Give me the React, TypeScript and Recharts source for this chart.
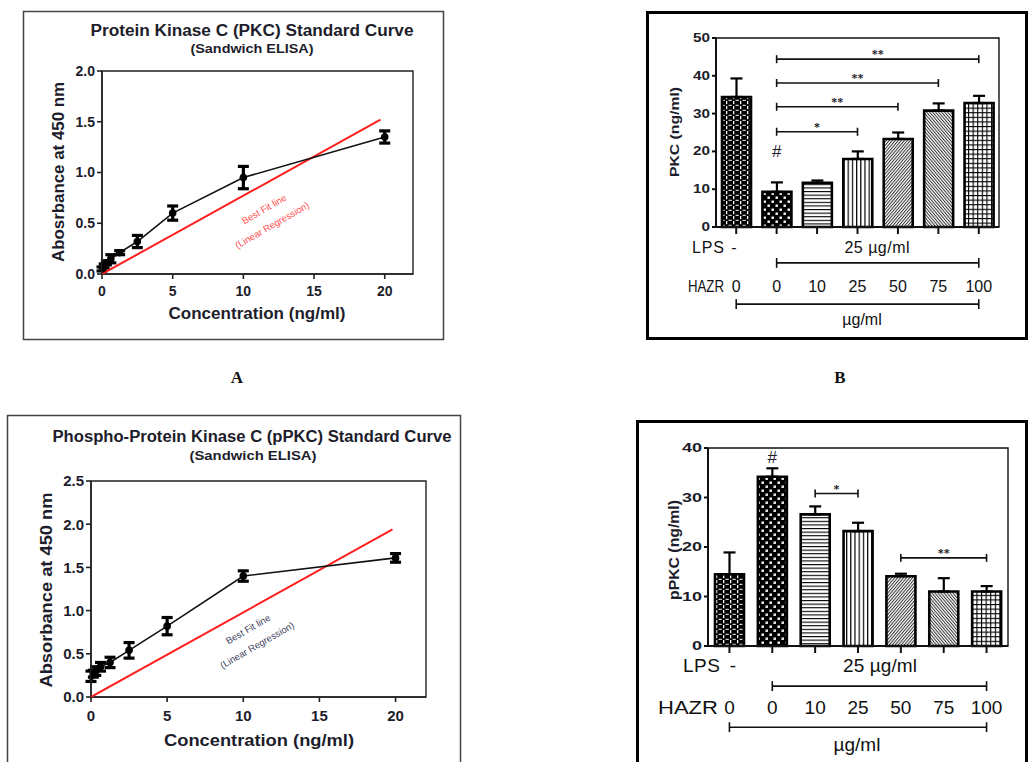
import React from 'react'
import {
  ScatterChart, Scatter, BarChart, Bar, XAxis, YAxis, ErrorBar, Cell,
  ReferenceLine, ReferenceArea, ReferenceDot,
} from 'recharts'

const FONT = '"Liberation Sans", Arial, sans-serif'
const INK = '#1d1d2b'

// standard curves (A: PKC, C: pPKC)
const stdConc      = [0, 0.156, 0.3125, 0.625, 1.25, 2.5, 5, 10, 20]
const pkcAbs       = [0.05, 0.08, 0.11, 0.15, 0.21, 0.32, 0.6, 0.95, 1.35]
const pkcAbsErr    = [0.02, 0.02, 0.02, 0.04, 0.02, 0.06, 0.07, 0.11, 0.06]
const ppkcAbs      = [0.24, 0.27, 0.3, 0.35, 0.4, 0.54, 0.82, 1.4, 1.61]
const ppkcAbsErr   = [0.06, 0.04, 0.05, 0.05, 0.06, 0.09, 0.1, 0.06, 0.05]
const pkcFitX      = [0, 19.7]
const pkcFitY      = [0, 1.52]
const ppkcFitX     = [0, 19.8]
const ppkcFitY     = [0, 1.94]
const concTicks    = [0, 5, 10, 15, 20]
const pkcAbsTicks  = [0, 0.5, 1, 1.5, 2]
const ppkcAbsTicks = [0, 0.5, 1, 1.5, 2, 2.5]

// treated cells (B: PKC, D: pPKC)
const groups    = ['ctrl', 'lps', 'h10', 'h25', 'h50', 'h75', 'h100']
const hazrDose  = ['0', '0', '10', '25', '50', '75', '100']
const pkcLevel  = [34.4, 9.3, 11.7, 18.0, 23.3, 30.8, 32.8]
const pkcSem    = [4.9, 2.5, 0.6, 2.0, 1.7, 1.9, 1.9]
const ppkcLevel = [14.5, 34.2, 26.6, 23.2, 14.1, 11.0, 11.0]
const ppkcSem   = [4.4, 1.7, 1.6, 1.7, 0.5, 2.7, 1.1]
const pkcTicks  = [0, 10, 20, 30, 40, 50]
const ppkcTicks = [0, 10, 20, 30, 40]
const barFills  = ['url(#pCheck)', 'url(#pDots)', 'url(#pHLines)', 'url(#pVLines)', 'url(#pDiagR)', 'url(#pDiagL)', 'url(#pGrid)']

const pkcSig = [
  { from: 'lps', to: 'h25',  y: 25.2, mark: '*' },
  { from: 'lps', to: 'h50',  y: 31.8, mark: '**' },
  { from: 'lps', to: 'h75',  y: 38.1, mark: '**' },
  { from: 'lps', to: 'h100', y: 44.4, mark: '**' },
]
const ppkcSig = [
  { from: 'h10', to: 'h25',  y: 30.8, mark: '*' },
  { from: 'h50', to: 'h100', y: 17.8, mark: '**' },
]

const curve = (xs: number[], ys: number[], es?: number[]) =>
  xs.map((x, i) => ({ x, y: ys[i], err: es ? es[i] : 0 }))

const bars = (vals: number[], sems: number[]) =>
  groups.map((g, i) => ({ g, v: vals[i], e: [0, sems[i]] }))

const tickFont = (size: number) => ({ fontSize: size, fontWeight: 700, fill: INK, fontFamily: FONT })

function StretchTick(props: any) {
  const { x, y, payload, size, perChar } = props
  const s = String(payload.value)
  return (
    <text x={x} y={y} textAnchor="end" dominantBaseline="central" fontSize={size}
      fontWeight={700} fontFamily={FONT} fill={INK}
      textLength={s.length * perChar} lengthAdjust="spacingAndGlyphs">{s}</text>
  )
}

function DoseTick(props: any) {
  const { x, y, payload, size, dy } = props
  return (
    <text x={x} y={y + dy} textAnchor="middle" fontSize={size} fontFamily={FONT} fill="#111">
      {hazrDose[groups.indexOf(payload.value)]}
    </text>
  )
}

// |-----| bracket drawn through the chart scales
function bracket(key: string, from: string, to: string, y: number, cap: number, mark?: string) {
  const st = { stroke: '#111', strokeWidth: 1.6, ifOverflow: 'visible' as const }
  return [
    <ReferenceLine key={key + 'h'} {...st} segment={[{ x: from, y }, { x: to, y }]}
      label={mark ? { value: mark, position: 'top', offset: 1, fontSize: 12, fontWeight: 700, fill: INK } : undefined} />,
    <ReferenceLine key={key + 'l'} {...st} segment={[{ x: from, y: y - cap }, { x: from, y: y + cap }]} />,
    <ReferenceLine key={key + 'r'} {...st} segment={[{ x: to, y: y - cap }, { x: to, y: y + cap }]} />,
  ]
}

function Patterns() {
  return (
    <svg width={0} height={0} style={{ position: 'absolute' }}>
      <defs>
        <pattern id="pCheck" patternUnits="userSpaceOnUse" width={7} height={5}>
          <rect width={7} height={5} fill="#000" />
          <rect x={3} y={0} width={1.3} height={3.2} fill="#fff" />
          <rect x={0} y={3.8} width={1.8} height={1} fill="#fff" />
          <rect x={5.5} y={3.8} width={1.5} height={1} fill="#fff" />
        </pattern>
        <pattern id="pDots" patternUnits="userSpaceOnUse" width={8} height={8}>
          <rect width={8} height={8} fill="#000" />
          <rect x={1.5} y={1.5} width={2.4} height={2.4} fill="#fff" />
          <rect x={5.5} y={5.5} width={2.4} height={2.4} fill="#fff" />
        </pattern>
        <pattern id="pHLines" patternUnits="userSpaceOnUse" width={6} height={3.6}>
          <rect width={6} height={3.6} fill="#fff" />
          <rect y={0} width={6} height={1.1} fill="#000" />
        </pattern>
        <pattern id="pVLines" patternUnits="userSpaceOnUse" width={4.2} height={6}>
          <rect width={4.2} height={6} fill="#fff" />
          <rect x={0} width={1.2} height={6} fill="#000" />
        </pattern>
        <pattern id="pDiagR" patternUnits="userSpaceOnUse" width={2.3} height={6} patternTransform="rotate(40)">
          <rect width={2.3} height={6} fill="#fff" />
          <rect width={1} height={6} fill="#333" />
        </pattern>
        <pattern id="pDiagL" patternUnits="userSpaceOnUse" width={2.3} height={6} patternTransform="rotate(-40)">
          <rect width={2.3} height={6} fill="#fff" />
          <rect width={1} height={6} fill="#333" />
        </pattern>
        <pattern id="pGrid" patternUnits="userSpaceOnUse" width={4.6} height={4.6}>
          <rect width={4.6} height={4.6} fill="#fff" />
          <rect width={1.1} height={4.6} fill="#000" />
          <rect width={4.6} height={1.1} fill="#000" />
        </pattern>
      </defs>
    </svg>
  )
}

function StdCurve(props: any) {
  const { w, h, margin, yw, ys, yTicks, yMax, fit, fsTick, tm } = props
  return (
    <ScatterChart width={w} height={h} margin={margin}>
      <XAxis type="number" dataKey="x" domain={[0, 22]} ticks={concTicks} allowDataOverflow
        tick={tickFont(fsTick)} tickSize={5} tickMargin={tm} height={30}
        axisLine={{ stroke: '#222', strokeWidth: 1.6 }} tickLine={{ stroke: '#222', strokeWidth: 1.6 }} />
      <YAxis type="number" dataKey="y" domain={[0, yMax]} ticks={yTicks} allowDataOverflow
        tickFormatter={(v: number) => v.toFixed(1)} width={yw}
        tick={tickFont(fsTick)} tickSize={5} tickMargin={2}
        axisLine={{ stroke: '#222', strokeWidth: 1.6 }} tickLine={{ stroke: '#222', strokeWidth: 1.6 }} />
      <ReferenceArea x1={0} x2={22} y1={0} y2={yMax} fill="none" stroke="#222" strokeWidth={1.4} />
      <Scatter data={fit} line={{ stroke: '#ff1e1e', strokeWidth: 2 }} shape={() => <g />} isAnimationActive={false} />
      <Scatter data={ys} line={{ stroke: '#111', strokeWidth: 1.6 }} isAnimationActive={false}
        shape={(p: any) => <circle cx={p.cx} cy={p.cy} r={3.8} fill="#000" />}>
        <ErrorBar dataKey="err" direction="y" width={5.5} stroke="#000" strokeWidth={3.2} />
      </Scatter>
    </ScatterChart>
  )
}

function GroupBars(props: any) {
  const { w, h, margin, data, yMax, yTicks, sig, hash, lpsY, hazrY, cap, capLow, fsDose, doseDy, perChar } = props
  return (
    <BarChart width={w} height={h} data={data} margin={margin} barSize={29}>
      <XAxis dataKey="g" height={30} interval={0} tickSize={7} tickMargin={0}
        tick={<DoseTick size={fsDose} dy={doseDy} />}
        axisLine={{ stroke: '#111', strokeWidth: 2 }} tickLine={{ stroke: '#111', strokeWidth: 2 }} />
      <YAxis domain={[0, yMax]} ticks={yTicks} width={40} tickSize={4} tickMargin={2}
        tick={<StretchTick size={12} perChar={perChar} />}
        axisLine={{ stroke: '#111', strokeWidth: 2 }} tickLine={{ stroke: '#111', strokeWidth: 2 }} />
      <ReferenceArea x1="ctrl" x2="h100" y1={0} y2={yMax} fill="none" stroke="#111" strokeWidth={1.4} />
      <Bar dataKey="v" stroke="#000" strokeWidth={2.6} isAnimationActive={false}>
        {data.map((d: any, i: number) => <Cell key={d.g} fill={barFills[i]} />)}
        <ErrorBar dataKey="e" direction="y" width={6} stroke="#000" strokeWidth={2.2} />
      </Bar>
      {sig.map((s: any, i: number) => bracket('s' + i, s.from, s.to, s.y, cap, s.mark))}
      <ReferenceDot x="lps" y={hash} r={0} fill="none" stroke="none" ifOverflow="visible"
        label={{ value: '#', position: 'center', fontSize: 17, fill: INK, fontFamily: FONT }} />
      {bracket('lpsb', 'lps', 'h100', lpsY, capLow)}
      {bracket('hazb', 'ctrl', 'h100', hazrY, capLow)}
    </BarChart>
  )
}

const abs = (left: number, top: number): React.CSSProperties => ({ position: 'absolute', left, top })

export default function App() {
  const txt = { fontFamily: FONT, fill: '#111' }
  const bold = { fontFamily: FONT, fill: INK, fontWeight: 700, lengthAdjust: 'spacingAndGlyphs' }
  return (
    <div style={{ position: 'absolute', left: 0, top: 0, width: 1028, height: 762, background: '#fff', overflow: 'hidden' }}>
      <Patterns />

      <div style={abs(23, 11)}>
        <StdCurve w={421} h={329} margin={{ top: 60, right: 31, left: 39, bottom: 36 }} yw={40}
          ys={curve(stdConc, pkcAbs, pkcAbsErr)} fit={curve(pkcFitX, pkcFitY)}
          yTicks={pkcAbsTicks} yMax={2} fsTick={14} tm={7} />
      </div>

      <div style={abs(646, 11)}>
        <GroupBars w={382} h={328} margin={{ top: 27, right: 29, left: 30, bottom: 82 }}
          data={bars(pkcLevel, pkcSem)} yMax={50} yTicks={pkcTicks} sig={pkcSig} hash={20}
          lpsY={-9.5} hazrY={-20.4} cap={1.06} capLow={1.3} fsDose={16} doseDy={58} perChar={8.5} />
      </div>

      <div style={abs(8, 415)}>
        <StdCurve w={453} h={347} margin={{ top: 66, right: 35, left: 38, bottom: 35 }} yw={45}
          ys={curve(stdConc, ppkcAbs, ppkcAbsErr)} fit={curve(ppkcFitX, ppkcFitY)}
          yTicks={ppkcAbsTicks} yMax={2.5} fsTick={15} tm={8} />
      </div>

      <div style={abs(636, 420)}>
        <GroupBars w={392} h={342} margin={{ top: 28, right: 20, left: 32, bottom: 86 }}
          data={bars(ppkcLevel, ppkcSem)} yMax={40} yTicks={ppkcTicks} sig={ppkcSig} hash={38.2}
          lpsY={-8.1} hazrY={-16.4} cap={0.8} capLow={1.0} fsDose={19} doseDy={61} perChar={10} />
      </div>

      <svg width={1028} height={762} style={{ position: 'absolute', left: 0, top: 0, pointerEvents: 'none' }}>
        {/* frames */}
        <rect x={23.5} y={11.5} width={420} height={328} fill="none" stroke="#444" strokeWidth={1.5} />
        <rect x={647.5} y={12.5} width={379} height={326} fill="none" stroke="#000" strokeWidth={3} />
        <rect x={7.5} y={415.5} width={453} height={360} fill="none" stroke="#444" strokeWidth={1.5} />
        <rect x={637.5} y={421.5} width={389} height={360} fill="none" stroke="#000" strokeWidth={3} />

        {/* panel A */}
        <text x={252} y={36} textAnchor="middle" fontSize={16} textLength={323} {...bold}>Protein Kinase C (PKC) Standard Curve</text>
        <text x={252} y={53} textAnchor="middle" fontSize={12} textLength={123} {...bold}>(Sandwich ELISA)</text>
        <text transform="translate(64,172) rotate(-90)" textAnchor="middle" fontSize={16} textLength={180} {...bold}>Abosrbance at 450 nm</text>
        <text x={257} y={319} textAnchor="middle" fontSize={16} textLength={177} {...bold}>Concentration (ng/ml)</text>
        <text transform="translate(264,209) rotate(-30)" textAnchor="middle" dominantBaseline="central" fontSize={9.5} fontFamily={FONT} fill="#ff4a4a">Best Fit line</text>
        <text transform="translate(272,225) rotate(-30)" textAnchor="middle" dominantBaseline="central" fontSize={9.5} fontFamily={FONT} fill="#ff4a4a">(Linear Regression)</text>

        {/* panel B */}
        <text transform="translate(679,132) rotate(-90)" textAnchor="middle" fontSize={13} textLength={90} {...bold}>PKC (ng/ml)</text>
        <text x={692} y={253} fontSize={16} textLength={32} {...txt}>LPS</text>
        <text x={734} y={253} textAnchor="middle" fontSize={16} {...txt}>-</text>
        <text x={877} y={253} textAnchor="middle" fontSize={16} textLength={65} {...txt}>25 µg/ml</text>
        <text x={688} y={292} fontSize={16} textLength={36} lengthAdjust="spacingAndGlyphs" {...txt}>HAZR</text>
        <text x={862} y={325} textAnchor="middle" fontSize={16} {...txt}>µg/ml</text>

        {/* A / B */}
        <text x={237} y={383} textAnchor="middle" fontSize={17} fontWeight={700} fontFamily='"Liberation Serif", serif' fill="#111">A</text>
        <text x={840} y={383} textAnchor="middle" fontSize={17} fontWeight={700} fontFamily='"Liberation Serif", serif' fill="#111">B</text>

        {/* panel C */}
        <text x={252} y={442} textAnchor="middle" fontSize={16} textLength={399} {...bold}>Phospho-Protein Kinase C (pPKC) Standard Curve</text>
        <text x={253} y={460} textAnchor="middle" fontSize={12} textLength={127} {...bold}>(Sandwich ELISA)</text>
        <text transform="translate(52,590) rotate(-90)" textAnchor="middle" fontSize={17} textLength={195} {...bold}>Absorbance at 450 nm</text>
        <text x={259} y={746} textAnchor="middle" fontSize={17} textLength={190} {...bold}>Concentration (ng/ml)</text>
        <text transform="translate(248,629) rotate(-30)" textAnchor="middle" dominantBaseline="central" fontSize={9.5} fontFamily={FONT} fill="#3c3c5c">Best Fit line</text>
        <text transform="translate(257,645) rotate(-30)" textAnchor="middle" dominantBaseline="central" fontSize={9.5} fontFamily={FONT} fill="#3c3c5c">(Linear Regression)</text>

        {/* panel D */}
        <text transform="translate(679,550) rotate(-90)" textAnchor="middle" fontSize={14} textLength={100} {...bold}>pPKC (ng/ml)</text>
        <text x={683} y={672} fontSize={19} textLength={37} {...txt}>LPS</text>
        <text x={733} y={672} textAnchor="middle" fontSize={19} {...txt}>-</text>
        <text x={880} y={672} textAnchor="middle" fontSize={19} textLength={74} {...txt}>25 µg/ml</text>
        <text x={658} y={714} fontSize={19} textLength={60} lengthAdjust="spacingAndGlyphs" {...txt}>HAZR</text>
        <text x={857} y={751} textAnchor="middle" fontSize={19} {...txt}>µg/ml</text>
      </svg>
    </div>
  )
}
